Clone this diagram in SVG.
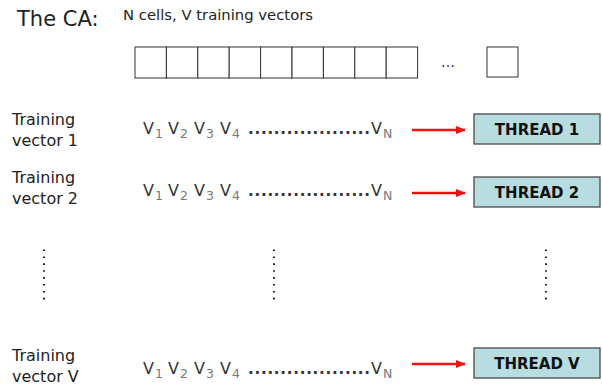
<svg xmlns="http://www.w3.org/2000/svg" width="602" height="385" viewBox="0 0 602 385">
<defs>
<style>
text{font-family:"DejaVu Sans","Liberation Sans",sans-serif;fill:#222}
.lbl{font-size:16px}
.v{font-size:16px;fill:#333}
.s{font-size:12.5px;fill:#777}
.d{font-size:15px;font-weight:bold;fill:#333}
.box{fill:#b7dde1;stroke:#4a4a4a;stroke-width:1.3}
.th{font-size:15px;font-weight:bold;fill:#111;text-anchor:middle}
.cell{fill:#fff;stroke:#333;stroke-width:1}
.arr{stroke:#ee1111;stroke-width:2.5;fill:none;marker-end:url(#ah)}
.vd{stroke:#222;stroke-width:2;stroke-dasharray:1.6 5.3;fill:none}
</style>
<marker id="ah" viewBox="0 0 10 10" refX="9" refY="5" markerWidth="4" markerHeight="4" orient="auto" markerUnits="strokeWidth">
<path d="M0,1 L10,5 L0,9 z" fill="#ee1111"/>
</marker>
</defs>
<g id="title">
<text x="17" y="26" font-size="21">The CA:</text>
<text x="123" y="20" font-size="14" textLength="190" lengthAdjust="spacingAndGlyphs">N cells, V training vectors</text>
</g>
<g id="ca-cells">
<rect class="cell" x="135" y="47" width="31.4" height="31"/>
<rect class="cell" x="166.4" y="47" width="31.4" height="31"/>
<rect class="cell" x="197.8" y="47" width="31.4" height="31"/>
<rect class="cell" x="229.2" y="47" width="31.4" height="31"/>
<rect class="cell" x="260.6" y="47" width="31.4" height="31"/>
<rect class="cell" x="292" y="47" width="31.4" height="31"/>
<rect class="cell" x="323.4" y="47" width="31.4" height="31"/>
<rect class="cell" x="354.8" y="47" width="31.4" height="31"/>
<rect class="cell" x="386.2" y="47" width="31.4" height="31"/>
<text x="441" y="67" font-size="14">…</text>
<rect class="cell" x="487" y="47" width="31" height="30" stroke="#555"/>
</g>
<g id="row1">
<text class="lbl" x="12" y="125">Training</text>
<text class="lbl" x="12" y="146">vector 1</text>
<text y="134"><tspan class="v" x="143">V</tspan><tspan class="s" x="155" dy="4">1</tspan><tspan class="v" x="168" dy="-4">V</tspan><tspan class="s" x="180" dy="4">2</tspan><tspan class="v" x="194" dy="-4">V</tspan><tspan class="s" x="206" dy="4">3</tspan><tspan class="v" x="220" dy="-4">V</tspan><tspan class="s" x="232" dy="4">4</tspan><tspan class="d" x="248" dy="-4" textLength="122" lengthAdjust="spacing">...................</tspan><tspan class="v" x="371">V</tspan><tspan class="s" x="383" dy="4">N</tspan></text>
</g>
<g id="thread1">
<rect class="box" x="474" y="114" width="126" height="30"/>
<text class="th" x="537" y="135">THREAD 1</text>
</g>
<g id="row2">
<text class="lbl" x="12" y="183">Training</text>
<text class="lbl" x="12" y="204">vector 2</text>
<text y="196"><tspan class="v" x="143">V</tspan><tspan class="s" x="155" dy="4">1</tspan><tspan class="v" x="168" dy="-4">V</tspan><tspan class="s" x="180" dy="4">2</tspan><tspan class="v" x="194" dy="-4">V</tspan><tspan class="s" x="206" dy="4">3</tspan><tspan class="v" x="220" dy="-4">V</tspan><tspan class="s" x="232" dy="4">4</tspan><tspan class="d" x="248" dy="-4" textLength="122" lengthAdjust="spacing">...................</tspan><tspan class="v" x="371">V</tspan><tspan class="s" x="383" dy="4">N</tspan></text>
</g>
<g id="thread2">
<rect class="box" x="474" y="177" width="126" height="30"/>
<text class="th" x="537" y="198">THREAD 2</text>
</g>
<g id="rowV">
<text class="lbl" x="12" y="361">Training</text>
<text class="lbl" x="12" y="382">vector V</text>
<text y="374"><tspan class="v" x="143">V</tspan><tspan class="s" x="155" dy="4">1</tspan><tspan class="v" x="168" dy="-4">V</tspan><tspan class="s" x="180" dy="4">2</tspan><tspan class="v" x="194" dy="-4">V</tspan><tspan class="s" x="206" dy="4">3</tspan><tspan class="v" x="220" dy="-4">V</tspan><tspan class="s" x="232" dy="4">4</tspan><tspan class="d" x="248" dy="-4" textLength="122" lengthAdjust="spacing">...................</tspan><tspan class="v" x="371">V</tspan><tspan class="s" x="383" dy="4">N</tspan></text>
</g>
<g id="threadV">
<rect class="box" x="474" y="348" width="126" height="30"/>
<text class="th" x="537" y="369">THREAD V</text>
</g>
<g id="ellipses">
<path class="vd" d="M44,249.5 V300"/>
<path class="vd" d="M274,249.5 V300"/>
<path class="vd" d="M546,249.5 V300"/>
</g>
<g id="connectors">
<path class="arr" d="M412,130 H465"/>
<path class="arr" d="M412,193 H465"/>
<path class="arr" d="M412,364 H465"/>
</g>
</svg>
